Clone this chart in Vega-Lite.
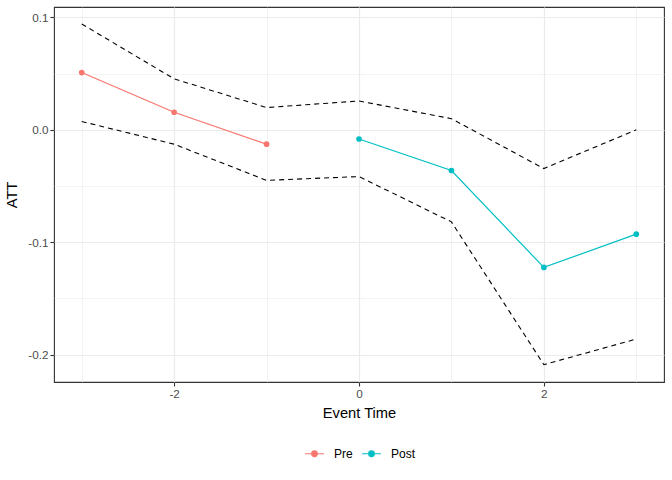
{
  "$schema": "https://vega.github.io/schema/vega-lite/v6.json",
  "width": 610,
  "height": 375,
  "autosize": {"type": "none"},
  "padding": {"left": 54, "top": 7, "right": 8, "bottom": 98},
  "background": "white",
  "data": {
    "values": [
      {"t": -3, "att": 0.0509, "lo": 0.0074, "hi": 0.0941, "period": "Pre"},
      {"t": -2, "att": 0.0156, "lo": -0.0128, "hi": 0.0453, "period": "Pre"},
      {"t": -1, "att": -0.0128, "lo": -0.045, "hi": 0.0198, "period": "Pre"},
      {"t": 0, "att": -0.0082, "lo": -0.0416, "hi": 0.0256, "period": "Post"},
      {"t": 1, "att": -0.0362, "lo": -0.0819, "hi": 0.0099, "period": "Post"},
      {"t": 2, "att": -0.1224, "lo": -0.2089, "hi": -0.0345, "period": "Post"},
      {"t": 3, "att": -0.0928, "lo": -0.1861, "hi": 0.0, "period": "Post"}
    ]
  },
  "encoding": {
    "x": {
      "field": "t",
      "type": "quantitative",
      "title": "Event Time",
      "scale": {"domain": [-3.3, 3.3], "nice": false, "zero": false},
      "axis": {
        "values": [-3, -2, -1, 0, 1, 2, 3],
        "labelExpr": "datum.value % 2 != 0 ? '' : replace(format(datum.value, 'd'), '\u2212', '-')",
        "tickOpacity": {"condition": {"test": "datum.value % 2 != 0", "value": 0}, "value": 1},
        "gridWidth": {"condition": {"test": "datum.value % 2 != 0", "value": 0.6}, "value": 1.2}
      }
    },
    "y": {
      "field": "hi",
      "type": "quantitative",
      "title": "ATT",
      "scale": {"domain": [-0.2243, 0.1092], "nice": false, "zero": false},
      "axis": {
        "grid": true,
        "values": [-0.2, -0.15, -0.1, -0.05, 0, 0.05, 0.1],
        "labelExpr": "round(datum.value * 100) % 10 != 0 ? '' : replace(format(datum.value, '.1f'), '\u2212', '-')",
        "tickOpacity": {"condition": {"test": "round(datum.value * 100) % 10 != 0", "value": 0}, "value": 1},
        "gridWidth": {"condition": {"test": "round(datum.value * 100) % 10 != 0", "value": 0.6}, "value": 1.2}
      }
    }
  },
  "layer": [
    {
      "mark": {"type": "line", "color": "black", "strokeDash": [5, 4], "strokeWidth": 1.1}
    },
    {
      "mark": {"type": "line", "color": "black", "strokeDash": [5, 4], "strokeWidth": 1.1},
      "encoding": {"y": {"field": "lo", "type": "quantitative"}}
    },
    {
      "mark": {"type": "rule", "color": "#7f7f7f", "strokeWidth": 1.1},
      "encoding": {"y": {"datum": 0}}
    },
    {
      "mark": {"type": "line", "strokeWidth": 1.2},
      "encoding": {
        "y": {"field": "att", "type": "quantitative"},
        "color": {
          "field": "period",
          "type": "nominal",
          "scale": {"domain": ["Pre", "Post"], "range": ["#F8766D", "#00BFC4"]},
          "legend": {
            "title": null,
            "orient": "none",
            "direction": "horizontal",
            "legendX": 250,
            "legendY": 436,
            "symbolType": "M-1,0L1,0M-0.3,0A0.3,0.3 0 1,1 0.3,0A0.3,0.3 0 1,1 -0.3,0Z",
            "symbolSize": 360,
            "symbolStrokeWidth": 1.1,
            "labelFontSize": 12,
            "labelColor": "black",
            "labelOffset": 9,
            "columnPadding": 6
          }
        }
      }
    },
    {
      "mark": {"type": "circle", "size": 32, "opacity": 1},
      "encoding": {
        "y": {"field": "att", "type": "quantitative"},
        "color": {"field": "period", "type": "nominal"}
      }
    }
  ],
  "config": {
    "font": "Liberation Sans",
    "view": {"stroke": "#333333", "strokeWidth": 1.1},
    "axis": {
      "grid": true,
      "gridColor": "#EBEBEB",
      "domain": false,
      "tickColor": "#333333",
      "tickSize": 4,
      "tickWidth": 1.1,
      "labelColor": "#4D4D4D",
      "labelFontSize": 11.7,
      "labelPadding": 2,
      "titleFontSize": 14.7,
      "titleFontWeight": "normal",
      "titleColor": "black"
    },
    "axisX": {"titlePadding": 6},
    "axisY": {"titlePadding": 8}
  }
}
